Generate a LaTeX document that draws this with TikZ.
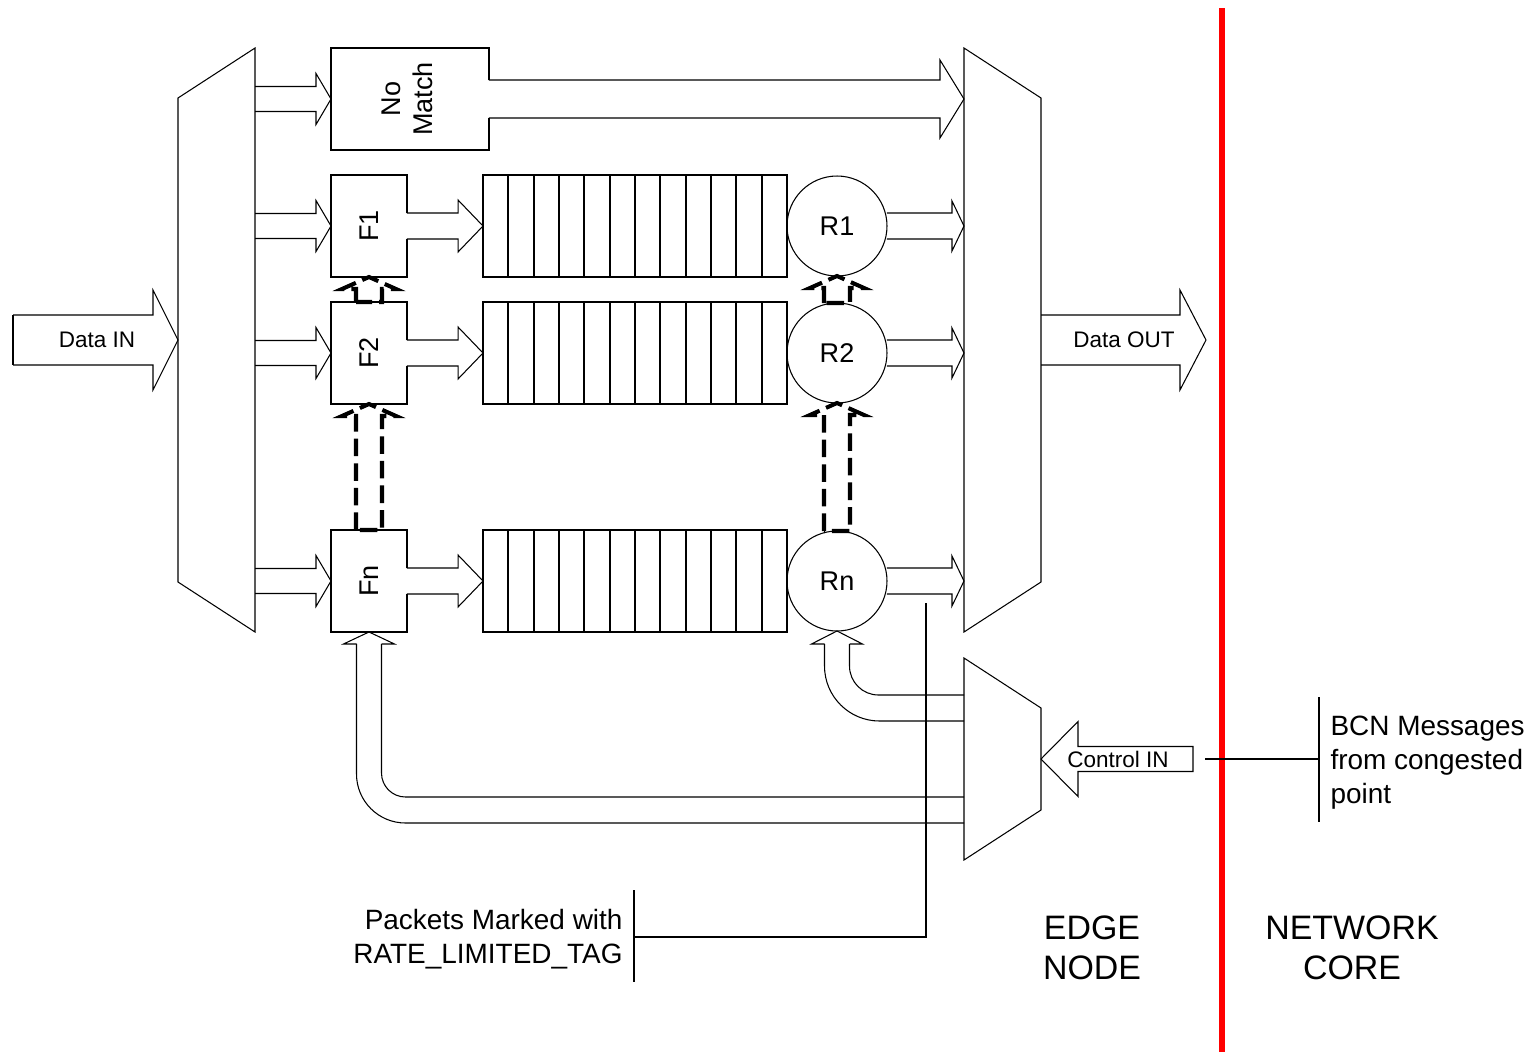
\documentclass[tikz,border=0pt]{standalone}
\usepackage{fontspec}
\setmainfont{Liberation Sans}
\usepackage{graphicx}
\usetikzlibrary{calc}

\tikzset{
  fnode/.style={rectangle, minimum width=1.52cm, minimum height=2.04cm, inner sep=0pt, outer sep=0pt, font=\fontsize{15.4}{18.2}\selectfont},
  queue/.style={draw, rectangle, line width=1.1pt, minimum width=6.08cm, minimum height=2.04cm, inner sep=0pt, outer sep=0pt},
  rnode/.style={draw, circle, minimum size=2cm, inner sep=0pt, outer sep=0pt, font=\fontsize{15.4}{18.2}\selectfont},
  smalltext/.style={font=\fontsize{12.8}{15}\selectfont, inner sep=0pt},
  notetext/.style={font=\fontsize{15.9}{19.3}\selectfont, inner sep=0pt},
  bigtext/.style={font=\fontsize{19.3}{22.8}\selectfont, inner sep=0pt, align=center},
  ctrlarrow/.style={line width=2.3pt, dash pattern=on 10pt off 4pt},
}

% fat arrow pointing right: from, to, shaft half, head half, head length
\newcommand{\fatarrow}[5]{%
  \draw ($(#1)+(0,-#3)$) -- ($(#2)+(-#5,-#3)$) -- ($(#2)+(-#5,-#4)$) -- (#2)
    -- ($(#2)+(-#5,#4)$) -- ($(#2)+(-#5,#3)$) -- ($(#1)+(0,#3)$);}
% dashed fat arrow pointing up: from, to, shaft half, head half, head length
\newcommand{\fatup}[5]{%
  \draw[ctrlarrow] ($(#1)+(-#3,0)$) -- ($(#2)+(-#3,#5)$) -- ($(#2)+(-#4,#5)$) -- (#2)
    -- ($(#2)+(#4,#5)$) -- ($(#2)+(#3,#5)$) -- ($(#1)+(#3,0)$) -- cycle;}

\begin{document}
\begin{tikzpicture}[x=0.02cm, y=-0.02cm, line width=0.6pt]
  \useasboundingbox (0,0) rectangle (1532,1052);
  % demux, mux, control mux
  \draw (178,98) -- (255,48) -- (255,632) -- (178,582) -- cycle;
  \draw (964,48) -- (1041,98) -- (1041,582) -- (964,632) -- cycle;
  \draw (964,658) -- (1041,708) -- (1041,810) -- (964,860) -- cycle;
  \coordinate (din) at (13,340);
  \coordinate (dmxin) at (178,340);
  \coordinate (dmx) at (255,340);
  \coordinate (mxL) at (964,340);
  \coordinate (mxR) at (1041,340);
  \coordinate (dout) at (1206,340);
  \coordinate (cmx) at (1041,759);
  \coordinate (cin) at (1193,759);
  \coordinate (cR) at (964,708);
  \coordinate (cF) at (964,810);

  \node[fnode, minimum width=3.16cm] (NM) at (410,99)
    {\rotatebox{90}{\begin{tabular}{@{}c@{}}No\\Match\end{tabular}}};
  \node[fnode] (F1) at (369,226) {\rotatebox{90}{F1}};
  \node[fnode] (F2) at (369,353) {\rotatebox{90}{F2}};
  \node[fnode] (Fn) at (369,581) {\rotatebox{90}{Fn}};
  \node[queue] (Q1) at (635,226) {};
  \node[queue] (Q2) at (635,353) {};
  \node[queue] (Qn) at (635,581) {};
  \node[rnode] (R1) at (837,226) {R1};
  \node[rnode] (R2) at (837,353) {R2};
  \node[rnode] (Rn) at (837,581) {Rn};

  % boxes open where the arrow leaves
  \draw (NM.east) ++(0,-19) |- (NM.north west) |- (NM.south east) -- ++(0,-32);
  \draw (F1.east) ++(0,-13) |- (F1.north west) |- (F1.south east) -- ++(0,-38);
  \draw (F2.east) ++(0,-13) |- (F2.north west) |- (F2.south east) -- ++(0,-38);
  \draw (Fn.east) ++(0,-13) |- (Fn.north west) |- (Fn.south east) -- ++(0,-38);
  \foreach \q in {Q1,Q2,Qn}
    \foreach \k in {1,...,11}
      \draw[line width=1.1pt] ($(\q.north west)!\k/12!(\q.north east)$) -- ($(\q.south west)!\k/12!(\q.south east)$);

  % data path
  \fatarrow{din}{dmxin}{25}{50}{25}
  \draw (din) ++(0,-25) -- ++(0,50);
  \node[smalltext] (dinlbl) at (97,340) {Data IN};
  \fatarrow{NM.west -| dmx}{NM.west}{12.5}{25.5}{15}
  \fatarrow{F1.west -| dmx}{F1.west}{12.5}{25.5}{15}
  \fatarrow{F2.west -| dmx}{F2.west}{12.5}{25.5}{15}
  \fatarrow{Fn.west -| dmx}{Fn.west}{12.5}{25.5}{15}
  \fatarrow{F1.east}{Q1.west}{13}{26}{25}
  \fatarrow{F2.east}{Q2.west}{13}{26}{25}
  \fatarrow{Fn.east}{Qn.west}{13}{26}{25}
  \fatarrow{NM.east}{NM.east -| mxL}{19}{39}{24}
  \fatarrow{R1.east}{R1.east -| mxL}{13}{25}{12}
  \fatarrow{R2.east}{R2.east -| mxL}{13}{25}{12}
  \fatarrow{Rn.east}{Rn.east -| mxL}{13}{25}{12}
  \fatarrow{mxR}{dout}{25}{50}{26}
  \node[smalltext] (doutlbl) at (1124,340) {Data OUT};

  % control path
  \draw (cin) ++(0,-12.5) -- ($(cmx)+(37,-12.5)$) -- ($(cmx)+(37,-37.5)$) -- (cmx)
    -- ($(cmx)+(37,37.5)$) -- ($(cmx)+(37,12.5)$) -- ($(cin)+(0,12.5)$) -- cycle;
  \node[smalltext] (cinlbl) at (1118,759) {Control IN};
  \fatup{F2.north}{F1.south}{13}{27}{12}
  \fatup{Fn.north}{F2.south}{13}{27}{12}
  \fatup{R2.north}{R1.south}{13}{27}{12}
  \fatup{Rn.north}{R2.south}{13}{27}{12}
  \draw[rounded corners=1.1cm] ($(cR)+(0,13)$) -| ($(Rn.south)+(-12.5,13)$);
  \draw ($(Rn.south)+(-12.5,13)$) -- ++(-13,0) -- (Rn.south) -- ($(Rn.south)+(25.5,13)$) -- ++(-13,0);
  \draw[rounded corners=0.58cm] ($(Rn.south)+(12.5,13)$) |- ($(cR)+(0,-13)$);
  \draw[rounded corners=0.98cm] ($(cF)+(0,13)$) -| ($(Fn.south)+(-12.5,12)$);
  \draw ($(Fn.south)+(-12.5,12)$) -- ++(-13,0) -- (Fn.south) -- ($(Fn.south)+(25.5,12)$) -- ++(-13,0);
  \draw[rounded corners=0.48cm] ($(Fn.south)+(12.5,12)$) |- ($(cF)+(0,-13)$);

  % border between edge node and core
  \draw[red, line width=3.4pt] (1222,8) -- (1222,1052);

  % callouts
  \coordinate (tagA) at (926,603);
  \coordinate (tagB) at (634,937);
  \draw (tagA) |- (tagB);
  \draw (tagB) ++(0,-47) -- ++(0,92);
  \node[notetext, anchor=east, align=right] (tag) at (623,939) {Packets Marked with\\RATE\_LIMITED\_TAG};
  \coordinate (bcnA) at (1205,759);
  \coordinate (bcnB) at (1319,759);
  \draw (bcnA) -- (bcnB);
  \draw (bcnB) ++(0,-62) -- ++(0,125);
  \node[notetext, anchor=west, align=left] (bcn) at (1330,763) {BCN Messages\\from congested\\point};
  \node[bigtext] (edge) at (1092,948) {EDGE\\NODE};
  \node[bigtext] (core) at (1352,948) {NETWORK\\CORE};
\end{tikzpicture}
\end{document}
